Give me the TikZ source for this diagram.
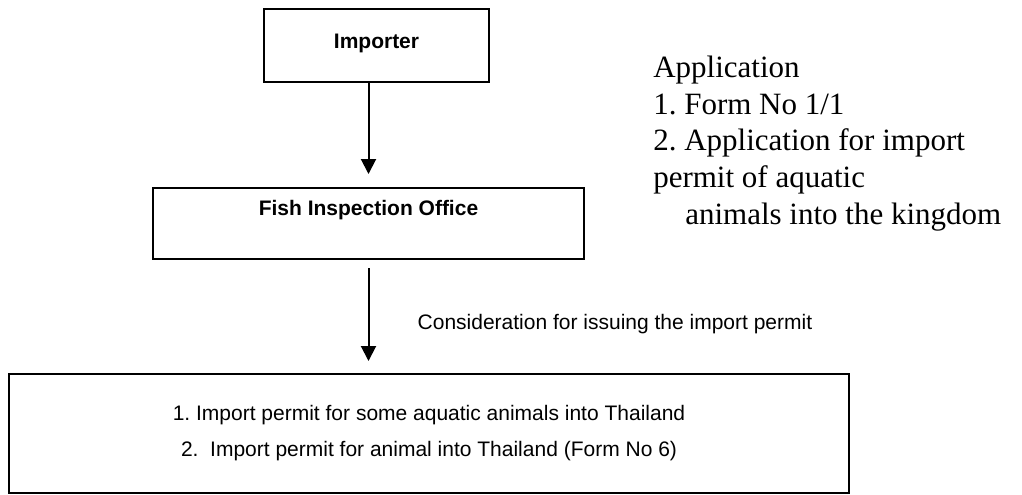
\documentclass[tikz,border=0pt]{standalone}
\usepackage{fontspec}
\setmainfont{Liberation Serif}
\newfontfamily\arial{Liberation Sans}
\usetikzlibrary{arrows.meta}
\frenchspacing

\begin{document}
\begin{tikzpicture}[x=0.75pt,y=-0.75pt]
        \tikzstyle{caixa}=[draw=black, line width=1.5pt, inner sep=0pt, align=center]
        \tikzstyle{negrito}=[font=\arial\bfseries\fontsize{15.75}{19}\selectfont]
        \tikzstyle{simples}=[font=\arial\fontsize{15.75}{27}\selectfont]
        \tikzstyle{seta}=[line width=1.5pt, -{Triangle[width=11.25pt, length=11.25pt]}]

        \useasboundingbox (0,0) rectangle (1022,494);

        \coordinate (A) at (376.5,45.5);
        \coordinate (B) at (368.5,223.5);
        \coordinate (C) at (429,433.5);
        \coordinate (D) at (413,329);
        \coordinate (E) at (653,224);

        \node (importer) at (A)[caixa, negrito, minimum width=168.75pt, text height=29.25pt, text depth=25.5pt]{Importer};
        \node (fish) at (B)[caixa, negrito, minimum width=323.25pt, text height=20.25pt, text depth=33pt]{Fish Inspection Office};
        \node (permit) at (C)[caixa, simples, minimum width=630pt, minimum height=89.25pt]{1. Import permit for some aquatic animals into Thailand\\
          2.\ \ Import permit for animal into Thailand (Form No 6)};

        \draw[seta, shorten >=9.75pt] (importer.south -| fish.north) -- (fish.north);
        \draw[seta, shorten <=6pt, shorten >=9pt] (fish.south) -- (fish.south |- permit.north);

        \node (consider) at (D)[anchor=base west, simples]{Consideration for issuing the import permit};

        \node (application) at (E)[anchor=base west, align=left, inner sep=0pt, font=\fontsize{23.25}{27.5}\selectfont]{Application\\
          1. Form No 1/1\\
          2. Application for import\\
          permit of aquatic\\
          \hspace*{24pt}animals into the kingdom};
      \end{tikzpicture}
\end{document}
